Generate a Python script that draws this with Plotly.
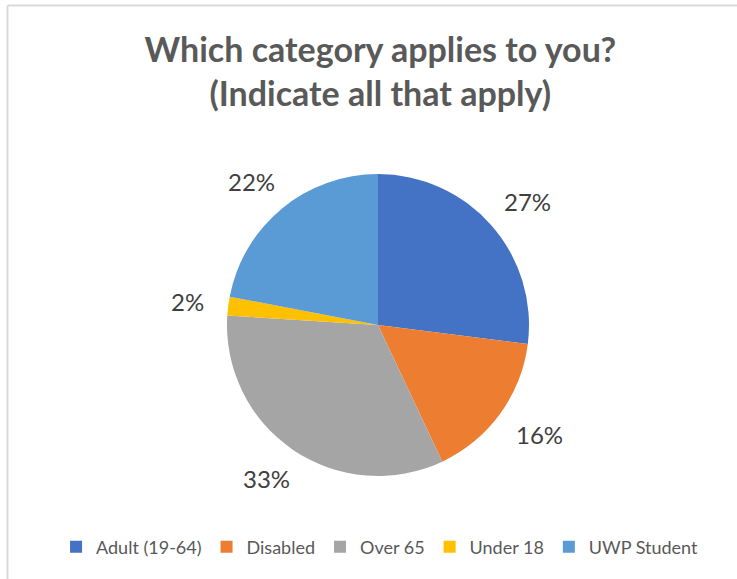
import math
import plotly.graph_objects as go

categories = ["Adult (19-64)", "Disabled", "Over 65", "Under 18", "UWP Student"]
values = [27, 16, 33, 2, 22]
colors = ["#4472C4", "#ED7D31", "#A5A5A5", "#FFC000", "#5B9BD5"]

W, H = 737, 579
cx, cy, r = 378, 325, 151
FONT = "Lato, Open Sans, sans-serif"
LABEL_SIZE = 24

fig = go.Figure(go.Pie(
    labels=categories,
    values=values,
    sort=False,
    direction="clockwise",
    rotation=0,
    marker=dict(colors=colors, line=dict(width=0)),
    textinfo="none",
    showlegend=True,
    domain=dict(x=[(cx - r) / W, (cx + r) / W], y=[1 - (cy + r) / H, 1 - (cy - r) / H]),
    hoverinfo="label+percent",
))

# percentage labels placed outside each slice, along its mid-angle
total = sum(values)
cum = 0
annotations = []
for v in values:
    frac = v / total
    theta = 2 * math.pi * (cum + frac / 2)
    cum += frac
    label = f"{round(frac * 100)}%"
    s, c = math.sin(theta), math.cos(theta)
    hw = 0.5 * LABEL_SIZE * (0.58 * (len(label) - 1) + 0.85)
    hh = 11
    R = r + 24
    px = cx + (R + hw) * s
    py = cy - (R + hh) * c
    annotations.append(dict(
        x=px / W, y=1 - py / H, xref="paper", yref="paper",
        text=label, showarrow=False, xanchor="center", yanchor="middle",
        font=dict(family=FONT, size=LABEL_SIZE, color="#404040"),
    ))

fig.update_layout(
    width=W, height=H,
    margin=dict(l=0, r=0, t=0, b=0),
    paper_bgcolor="white",
    plot_bgcolor="white",
    title=dict(
        text="Which category applies to you?<br>(Indicate all that apply)",
        x=0.516, xanchor="center", y=1 - 62 / H, yanchor="top",
        font=dict(family=FONT, size=34, color="#595959", weight="bold"),
    ),
    legend=dict(
        orientation="h", x=0.515, xanchor="center", y=1 - 547 / H, yanchor="middle",
        font=dict(family=FONT, size=18, color="#595959"),
        itemwidth=30, tracegroupgap=0,
    ),
    annotations=annotations,
    shapes=[
        dict(type="line", xref="paper", yref="paper", x0=7.5 / W, x1=1, y0=1 - 5.5 / H, y1=1 - 5.5 / H,
             line=dict(color="#D9D9D9", width=2)),
        dict(type="line", xref="paper", yref="paper", x0=7.5 / W, x1=7.5 / W, y0=0, y1=1 - 5.5 / H,
             line=dict(color="#D9D9D9", width=2)),
    ],
)

fig.write_html("out.html", config={"displayModeBar": False},
               post_script="document.body.style.margin='0';")
